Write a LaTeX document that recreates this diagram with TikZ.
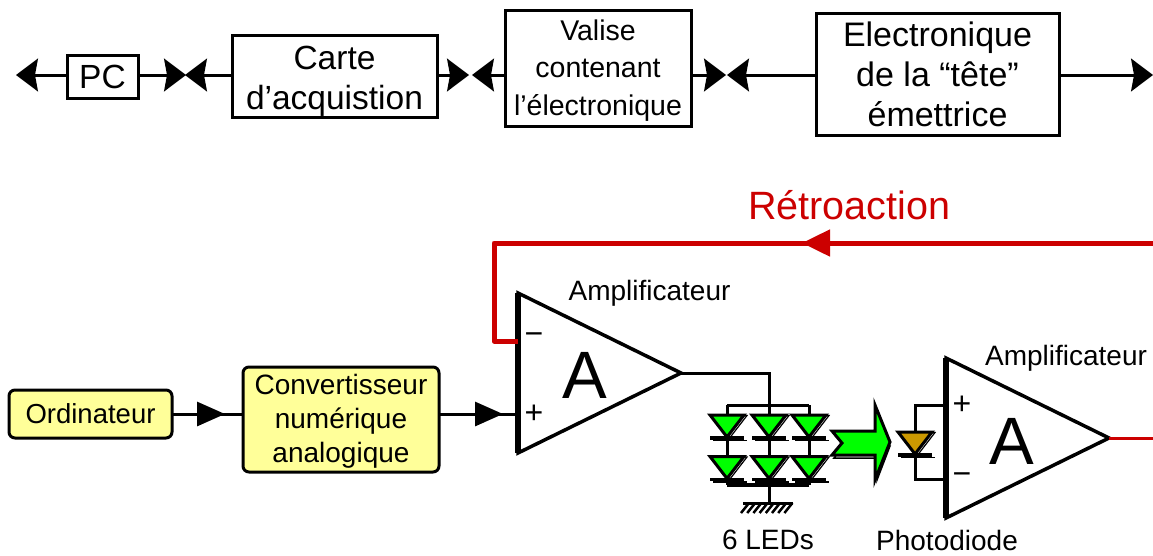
\documentclass[tikz,border=0pt]{standalone}
\usepackage{fontspec}
\setmainfont{Liberation Sans}
\usepackage{xcolor}
\definecolor{boxyellow}{HTML}{FFFF99}
\definecolor{fbred}{HTML}{CC0000}
\definecolor{ledgreen}{HTML}{00FF00}
\definecolor{pdbrown}{HTML}{CC9900}
\usetikzlibrary{shapes.geometric, arrows.meta, positioning}

\begin{document}
\begin{tikzpicture}[
      x=1pt, y=-1pt,
      node distance=60pt and 68pt,
      box/.style={rectangle, draw=black, line width=3pt, align=center, inner sep=0pt, outer sep=0pt},
      ybox/.style={box, fill=boxyellow, rounded corners=6pt},
      wire/.style={draw=black, line width=3pt},
      bi/.style={wire, -{Stealth[length=22pt,width=33pt,inset=3pt,line width=1.5pt]}},
      tri/.style={wire, -{Triangle[length=28pt,width=24pt]}},
      fb/.style={draw=fbred, line width=5pt, line join=round},
      amp/.style={isosceles triangle, isosceles triangle apex angle=52.3, isosceles triangle stretches,
                  draw=black, fill=white, line width=3.5pt, inner sep=0pt, outer sep=0pt,
                  minimum width=160pt, minimum height=163pt},
      lbl/.style={font=\fontsize{28}{34}\selectfont, align=center, inner sep=0pt},
      sign/.style={font=\fontsize{32}{32}\selectfont, inner sep=0pt},
      diode/.pic={
        \draw[line width=1.2pt] (-14,-10.5) -- (20,-10.5) -- (3,11.5) -- cycle;
        \draw[line width=1.5pt] (-14,14.5) -- (20,14.5);
        \draw[line width=3pt, fill=#1] (-17,-11) -- (17,-11) -- (0,11) -- cycle;
        \draw[line width=3.5pt] (-17,12) -- (17,12);
      },
      ]
    \useasboundingbox (0,0) rectangle (1153,555);

    % top chain
    \node[box, minimum width=71pt, minimum height=43pt, font=\fontsize{33.5}{40}\selectfont] (pc) at (102.5,76.5) {PC};
    \node[box, right=94pt of pc, minimum width=205pt, minimum height=82pt, font=\fontsize{33.5}{40}\selectfont] (carte) {\rule{0pt}{32pt}Carte\\d’acquistion};
    \node[box, right=68pt of carte, yshift=8pt, minimum width=186pt, minimum height=116pt, font=\fontsize{28.5}{37.5}\selectfont] (valise) {\rule{0pt}{24.5pt}Valise\\contenant\\l’électronique};
    \node[box, right=125pt of valise, yshift=-6pt, minimum width=243pt, minimum height=122pt, font=\fontsize{34}{40}\selectfont] (tete) {Electronique\\de la “tête”\\émettrice};

    \coordinate (endl) at (16,75);
    \coordinate (pcr) at (186,75);
    \coordinate (cal) at (185,75);
    \coordinate (car) at (469,75);
    \coordinate (val) at (472,75);
    \coordinate (var) at (726,75);
    \coordinate (tel) at (727,75);
    \coordinate (endr) at (1153,75);
    \draw[bi] (endl -| pc.west) -- (endl);
    \draw[bi] (pcr -| pc.east) -- (pcr);
    \draw[bi] (cal -| carte.west) -- (cal);
    \draw[bi] (car -| carte.east) -- (car);
    \draw[bi] (val -| valise.west) -- (val);
    \draw[bi] (var -| valise.east) -- (var);
    \draw[bi] (tel -| tete.west) -- (tel);
    \draw[bi] (endr -| tete.east) -- (endr);

    % lower chain
    \node[ybox, minimum width=163pt, minimum height=48pt, font=\fontsize{27.5}{34}\selectfont] (ordi) at (90.5,414) {Ordinateur};
    \node[ybox, right=71pt of ordi, yshift=-5.5pt, minimum width=196pt, minimum height=105pt, font=\fontsize{28}{34}\selectfont] (conv) {\rule{0pt}{24.5pt}Convertisseur\\numérique\\analogique};
    \node[amp, anchor=apex] (amp1) at (681,373) {};
    \node[amp, anchor=apex] (amp2) at (1109,438) {};
    \draw[line width=5.5pt] (amp1.left corner) -- (amp1.right corner);
    \draw[line width=5.5pt] (amp2.left corner) -- (amp2.right corner);
    \node[font=\fontsize{67}{67}\selectfont, inner sep=0pt] (a1) at (585,375) {A};
    \node[font=\fontsize{67}{67}\selectfont, inner sep=0pt] (a2) at (1012,441) {A};
    \node[sign] (p1) at (534,414) {+};
    \node[sign] (m1) at (534,339) {−};
    \node[sign] (p2) at (962,405) {+};
    \node[sign] (m2) at (962,479) {−};
    \node[lbl] (l1) at (649.5,293) {Amplificateur};
    \node[lbl] (l2) at (1066,358) {Amplificateur};
    \node[lbl] (l3) at (768,540) {6 LEDs};
    \node[lbl] (l4) at (947,540) {Photodiode};
    \node[font=\fontsize{39.5}{40}\selectfont, text=fbred, inner sep=0pt] (retro) at (849,205) {Rétroaction};

    \coordinate (t1) at (225,414);
    \coordinate (t2) at (503,414);
    \coordinate (in1) at (518,414);
    \draw[wire] (ordi) -- (t1 -| conv.west);
    \draw[tri] (ordi) -- (t1);
    \draw[wire] (t2 -| conv.east) -- (in1);
    \draw[tri] (t2 -| conv.east) -- (t2);

    % feedback
    \coordinate (fbr) at (1153,243);
    \coordinate (fbt) at (802,243);
    \coordinate (fbc) at (494,243);
    \coordinate (fbi) at (518,341);
    \draw[fb] (fbr) -- (fbc) |- (fbi);
    \draw[fb, -{Triangle[length=28pt,width=26pt]}] (fbr) -- (fbt);
    \coordinate (outr) at (1153,438);
    \draw[draw=fbred, line width=3pt] (amp2.apex) -- (outr);

    % LEDs
    \coordinate (railt) at (769,405);
    \coordinate (railb) at (769,485);
    \coordinate (gnd) at (769,503);
    \draw[wire] (amp1.apex) -| (railt);
    \draw[wire] (727,405) -- (809,405);
    \draw[wire] (railt) -- (gnd);
    \foreach \x in {727,769,809} {
      \draw[wire] (\x,405) -- (\x,485);
      \pic at (\x,426) {diode=ledgreen};
      \pic at (\x,467.5) {diode=ledgreen};
    }
    \draw[line width=4pt] (727,485) -- (809,485);
    \draw[wire] (743,503) -- (793,503);
    \foreach \x in {0,...,7} {
      \draw[line width=2.5pt] (749+\x*6.2,503) -- ++(-8,10);
    }

    % light arrow
    \draw[line width=1.5pt, fill=white] (834,434) -- (844,446) -- (834,458) -- (877,458) -- (877,480) -- (890,446) -- cycle;
    \draw[line width=3pt, fill=ledgreen] (832,431) -- (842,443) -- (832,455) -- (875,455) -- (875,480) -- (890,442) -- (875,405) -- (875,431) -- cycle;

    % photodiode
    \coordinate (pdt) at (946,405);
    \coordinate (pdb) at (946,479);
    \draw[wire] (pdt) -| (915,443) |- (pdb);
    \pic at (915,443) {diode=pdbrown};
\end{tikzpicture}
\end{document}
